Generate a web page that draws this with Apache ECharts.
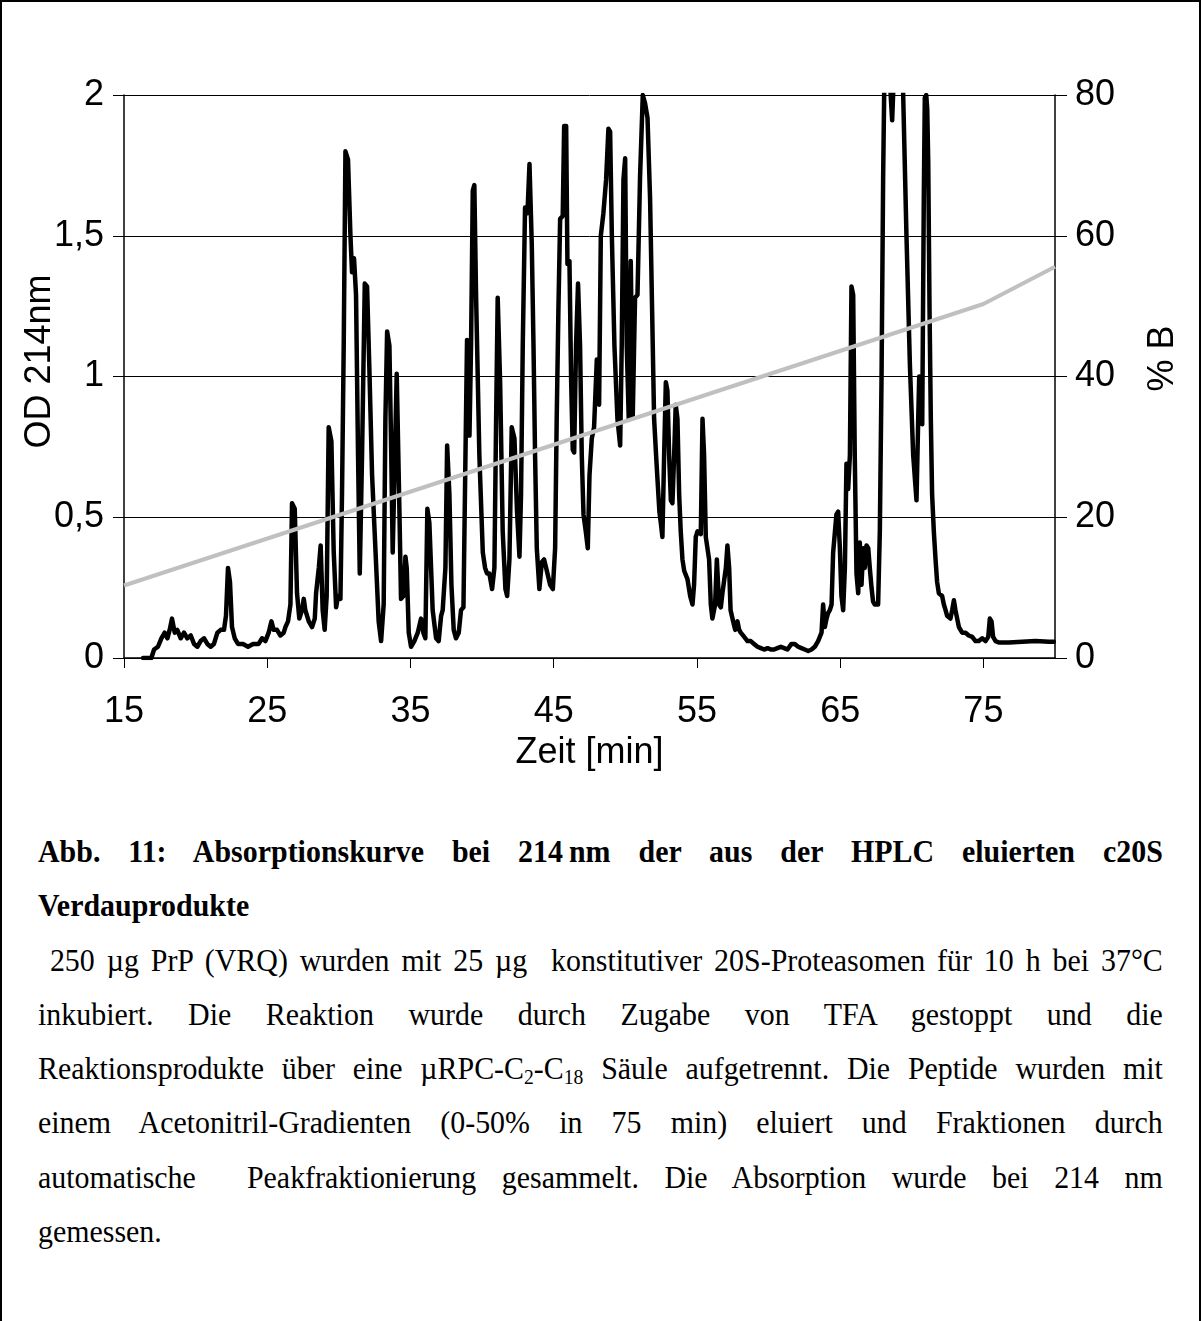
<!DOCTYPE html>
<html>
<head>
<meta charset="utf-8">
<script src="https://cdn.jsdelivr.net/npm/echarts@6/dist/echarts.min.js"></script>
<style>
html, body { margin: 0; padding: 0; background: #fff; }
#page { position: relative; width: 1201px; height: 1321px; overflow: hidden; }
#frame { position: absolute; left: 0; top: 0; width: 1197px; height: 1330px; border-left: 2px solid #000; border-top: 2px solid #000; border-right: 2px solid #000; }
#mainchart { position: absolute; left: 0; top: 0; width: 1201px; height: 800px; }
#caption { position: absolute; left: 38px; top: 824px; width: 1203px; transform: scaleX(0.935); transform-origin: 0 0;
  font-family: "Liberation Serif", "Times New Roman", serif; font-size: 32px; line-height: 54.3px; color: #000; }
#caption div { text-align: justify; text-align-last: justify; }
#caption div.last { text-align-last: left; }
sub { font-size: 21px; line-height: 0; vertical-align: -5px; }
</style>
</head>
<body>
<div id="page">
  <div id="frame"></div>
  <div id="mainchart"></div>
  <div id="caption">
    <div><b>Abb. 11: Absorptionskurve bei 214&#8201;nm der aus der HPLC eluierten c20S</b></div>
    <div class="last"><b>Verdauprodukte</b></div>
    <div>&nbsp;250 µg PrP (VRQ) wurden mit 25 µg &nbsp;konstitutiver 20S-Proteasomen für 10 h bei 37°C</div>
    <div>inkubiert. Die Reaktion wurde durch Zugabe von TFA gestoppt und die</div>
    <div>Reaktionsprodukte über eine µRPC-C<sub>2</sub>-C<sub>18</sub> Säule aufgetrennt. Die Peptide wurden mit</div>
    <div>einem Acetonitril-Gradienten (0-50% in 75 min) eluiert und Fraktionen durch</div>
    <div>automatische &nbsp;Peakfraktionierung gesammelt. Die Absorption wurde bei 214 nm</div>
    <div class="last">gemessen.</div>
  </div>
</div>
<script>
var od15to30 = [
  [16.33,0],[16.91,0],[17.10,0.03],[17.37,0.04],[17.61,0.07],[17.84,0.09],[18.03,0.07],[18.19,0.10],
  [18.35,0.14],[18.54,0.09],[18.72,0.10],[18.96,0.07],[19.19,0.09],[19.42,0.07],[19.66,0.08],[19.89,0.05],
  [20.12,0.04],[20.35,0.06],[20.59,0.07],[20.82,0.05],[21.05,0.04],[21.28,0.05],[21.52,0.09],[21.75,0.10],
  [21.98,0.10],[22.12,0.15],[22.26,0.32],[22.40,0.27],[22.54,0.11],[22.73,0.07],[22.96,0.05],[23.31,0.05],
  [23.66,0.04],[24.01,0.05],[24.40,0.05],[24.64,0.07],[24.87,0.06],[25.10,0.09],[25.29,0.13],[25.45,0.10],
  [25.68,0.10],[25.92,0.08],[26.15,0.09],[26.27,0.11],[26.45,0.13],[26.62,0.19],[26.73,0.55],[26.92,0.53],
  [27.08,0.23],[27.24,0.14],[27.43,0.17],[27.55,0.21],[27.66,0.17],[27.90,0.13],[28.13,0.11],[28.32,0.14],
  [28.41,0.23],[28.60,0.32],[28.73,0.40],[28.87,0.17],[29.01,0.10],[29.15,0.22],[29.29,0.82],[29.48,0.77],
  [29.64,0.38],[29.81,0.18],[29.94,0.22]
];
var od30to45 = [
  [30.11,0.21],[30.22,0.58],[30.34,1.11],[30.46,1.80],[30.64,1.77],[30.81,1.50],[30.92,1.37],[31.06,1.42],
  [31.20,1.29],[31.34,0.72],[31.46,0.30],[31.62,0.72],[31.81,1.33],[31.97,1.32],[32.13,1.03],[32.32,0.65],
  [32.55,0.39],[32.78,0.13],[32.95,0.06],[33.13,0.19],[33.25,0.85],[33.37,1.16],[33.53,1.11],[33.65,0.75],
  [33.76,0.375],[34.04,1.01],[34.23,0.52],[34.34,0.21],[34.51,0.22],[34.65,0.36],[34.74,0.32],[34.88,0.09],
  [35.04,0.04],[35.27,0.06],[35.51,0.09],[35.74,0.14],[35.90,0.09],[36.04,0.07],[36.18,0.53],[36.32,0.48],
  [36.55,0.17],[36.79,0.07],[36.97,0.06],[37.14,0.15],[37.25,0.17],[37.44,0.32],[37.56,0.755],[37.72,0.58],
  [37.86,0.26],[38.02,0.10],[38.18,0.07],[38.37,0.09],[38.53,0.17],[38.70,0.18],[38.84,0.72],[38.95,1.13],
  [39.12,0.79],[39.23,1.11],[39.35,1.66],[39.46,1.68],[39.58,1.29],[39.81,0.72],[40.05,0.375],[40.21,0.32],
  [40.35,0.30],[40.51,0.30],[40.70,0.245],[40.86,0.32],[40.98,0.85],[41.09,1.28],[41.26,0.98],[41.44,0.45],
  [41.63,0.245],[41.75,0.22],[41.91,0.35],[42.07,0.82],[42.26,0.78],[42.44,0.52],[42.61,0.36],[42.72,0.58],
  [42.84,1.11],[43.00,1.60],[43.17,1.58],[43.31,1.755],[43.47,1.47],[43.59,1.11],[43.70,0.72],[43.82,0.39],
  [44.00,0.245],[44.17,0.34],[44.33,0.35],[44.52,0.31],[44.75,0.26],[44.94,0.245]
];
var od45to60 = [
  [45.10,0.39],[45.21,0.85],[45.33,1.24],[45.45,1.56],[45.63,1.57],[45.73,1.89],[45.87,1.89],[45.96,1.40],
  [46.10,1.41],[46.22,0.98],[46.33,0.74],[46.43,0.73],[46.56,1.11],[46.70,1.33],[46.84,1.11],[46.96,0.72],
  [47.08,0.51],[47.24,0.45],[47.38,0.39],[47.50,0.65],[47.66,0.78],[47.82,0.82],[48.01,1.06],[48.17,0.90],
  [48.29,1.50],[48.47,1.58],[48.66,1.70],[48.82,1.88],[48.94,1.87],[49.06,1.50],[49.24,1.11],[49.45,0.85],
  [49.64,0.755],[49.75,1.11],[49.87,1.70],[49.99,1.775],[50.10,1.11],[50.24,0.85],[50.38,1.41],[50.52,0.86],
  [50.68,1.28],[50.85,1.29],[51.03,1.71],[51.22,2.0],[51.38,1.97],[51.55,1.92],[51.73,1.63],[51.87,1.24],
  [52.01,0.85],[52.15,0.72],[52.24,0.64],[52.38,0.52],[52.48,0.48],[52.59,0.43],[52.71,0.72],[52.83,0.98],
  [52.94,0.95],[53.06,0.72],[53.18,0.56],[53.29,0.55],[53.41,0.72],[53.52,0.90],[53.64,0.85],[53.76,0.58],
  [53.87,0.45],[53.99,0.35],[54.11,0.31],[54.34,0.28],[54.53,0.22],[54.69,0.19],[54.80,0.26],[54.92,0.43],
  [55.04,0.45],[55.27,0.44],[55.39,0.85],[55.50,0.72],[55.62,0.43],[55.85,0.35],[55.97,0.19],[56.08,0.14],
  [56.27,0.19],[56.39,0.35],[56.55,0.19],[56.67,0.18],[56.78,0.23],[56.90,0.23],[57.02,0.32],[57.13,0.40],
  [57.25,0.32],[57.35,0.17],[57.53,0.13],[57.67,0.10],[57.83,0.13],[57.95,0.10],[58.06,0.09],[58.30,0.075],
  [58.53,0.06],[58.76,0.06],[58.99,0.05],[59.23,0.04],[59.46,0.035],[59.69,0.03],[59.93,0.035]
];
var od60to80 = [
  [60.16,0.03],[60.39,0.03],[60.62,0.035],[60.86,0.04],[61.09,0.035],[61.32,0.03],[61.60,0.05],[61.83,0.05],
  [62.07,0.04],[62.30,0.035],[62.53,0.03],[62.77,0.025],[63.00,0.03],[63.23,0.04],[63.46,0.06],[63.70,0.09],
  [63.81,0.19],[63.93,0.11],[64.05,0.14],[64.16,0.16],[64.28,0.17],[64.40,0.19],[64.51,0.375],[64.63,0.375],
  [64.74,0.51],[64.86,0.52],[64.98,0.39],[65.09,0.22],[65.21,0.17],[65.33,0.32],[65.44,0.69],[65.56,0.60],
  [65.68,0.72],[65.79,1.32],[65.91,1.29],[66.02,0.72],[66.14,0.30],[66.26,0.23],[66.37,0.41],[66.49,0.26],
  [66.61,0.39],[66.72,0.32],[66.84,0.40],[66.96,0.39],[67.07,0.32],[67.19,0.25],[67.30,0.20],[67.42,0.19],
  [67.65,0.19],[67.77,0.45],[67.89,1.0],[68.00,1.7],[68.12,2.2],[68.30,2.3],[68.47,2.05],[68.63,1.91],
  [68.77,2.1],[68.95,2.4],[69.15,2.5],[69.30,2.2],[69.40,2.0],[69.63,1.50],[69.87,1.04],[70.10,0.72],
  [70.33,0.56],[70.45,0.85],[70.52,1.0],[70.62,0.95],[70.73,0.83],[70.84,1.63],[70.91,1.99],[71.01,2.0],
  [71.08,1.95],[71.15,1.76],[71.24,1.24],[71.33,0.85],[71.42,0.58],[71.54,0.45],[71.66,0.35],[71.77,0.27],
  [71.89,0.23],[72.12,0.22],[72.24,0.19],[72.36,0.17],[72.47,0.15],[72.70,0.14],[72.82,0.17],[72.94,0.205],
  [73.05,0.17],[73.17,0.14],[73.29,0.11],[73.52,0.09],[73.75,0.09],[73.98,0.08],[74.22,0.075],[74.45,0.06],
  [74.68,0.06],[74.92,0.07],[75.15,0.06],[75.34,0.075],[75.45,0.14],[75.57,0.13],[75.68,0.075],[75.85,0.06],
  [76.08,0.055],[76.78,0.055],[77.71,0.058],[78.64,0.06],[79.57,0.058],[79.92,0.058]
];
// Gradient % B
var gradTime = [15, 75, 80];
var gradB = [10.3, 50.3, 55.6];

var odData = od15to30.concat(od30to45, od45to60, od60to80);
var gradData = gradTime.map(function (t, i) { return [t, gradB[i]]; });

var myChart = echarts.init(document.getElementById('mainchart'));

var fontFam = '"Liberation Sans", Arial, sans-serif';
function komma(v) { return String(v).replace('.', ','); }

var option = {
    animation: false,
    textStyle: { fontFamily: fontFam, color: '#000' },
    grid: { left: 124, top: 95, width: 931, height: 563 },
    xAxis: {
        type: 'value', min: 15, max: 80, interval: 10,
        name: 'Zeit [min]', nameLocation: 'middle', nameGap: 77, nameMoveOverlap: false,
        nameTextStyle: { fontSize: 36, color: '#000', fontFamily: fontFam },
        axisLine: { show: true, onZero: false, lineStyle: { color: '#000', width: 1.5 } },
        axisTick: { show: true, inside: false, length: 10, lineStyle: { color: '#000', width: 1 } },
        axisLabel: { fontSize: 36, color: '#000', margin: 36, showMaxLabel: false, fontFamily: fontFam },
        splitLine: { show: false }
    },
    yAxis: [
        {
            type: 'value', min: 0, max: 2, interval: 0.5, position: 'left',
            name: 'OD 214nm', nameLocation: 'middle', nameGap: 66, nameRotate: 90, nameMoveOverlap: false,
            nameTextStyle: { fontSize: 36, color: '#000', fontFamily: fontFam, padding: [0, 0, 0, 30] },
            axisLine: { show: true, lineStyle: { color: '#000', width: 1.5 } },
            axisTick: { show: true, inside: false, length: 11, lineStyle: { color: '#000', width: 1 } },
            axisLabel: { fontSize: 36, color: '#000', margin: 20, formatter: komma, fontFamily: fontFam },
            splitLine: { show: true, lineStyle: { color: '#000', width: 1 } }
        },
        {
            type: 'value', min: 0, max: 80, interval: 20, position: 'right',
            name: '% B', nameLocation: 'middle', nameGap: 90, nameRotate: 90, nameMoveOverlap: false,
            nameTextStyle: { fontSize: 36, color: '#000', fontFamily: fontFam, padding: [0, 0, 0, 36] },
            axisLine: { show: true, lineStyle: { color: '#000', width: 1.5 } },
            axisTick: { show: true, inside: false, length: 12, lineStyle: { color: '#000', width: 1 } },
            axisLabel: { fontSize: 36, color: '#000', margin: 20, fontFamily: fontFam },
            splitLine: { show: false }
        }
    ],
    series: [
        {
            name: 'OD 214nm', type: 'line', yAxisIndex: 0, data: odData,
            showSymbol: false, clip: true, z: 2,
            lineStyle: { color: '#000', width: 4.5, join: 'round', cap: 'round' }
        },
        {
            name: '% B', type: 'line', yAxisIndex: 1, data: gradData,
            showSymbol: false, z: 3,
            lineStyle: { color: '#c0c0c0', width: 4 }
        }
    ]
};

myChart.setOption(option);
</script>
</body>
</html>
